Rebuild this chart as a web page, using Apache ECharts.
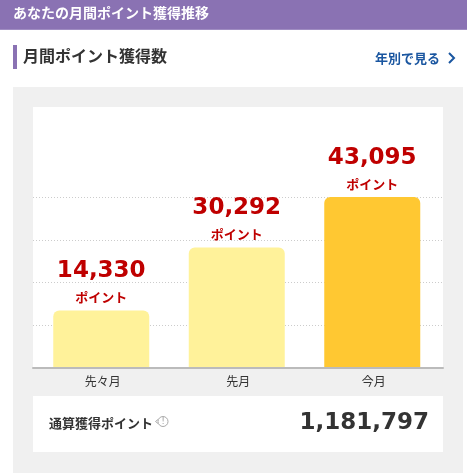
<!DOCTYPE html>
<html><head><meta charset="utf-8">
<style>html,body{margin:0;padding:0;background:#fff}#c{width:467px;height:473px}</style>
<script src="https://cdn.jsdelivr.net/npm/echarts@6/dist/echarts.min.js"></script>
</head><body><div id="c"></div>
<script>
const categories = ['先々月', '先月', '今月'];
const monthlyPoints = [14330, 30292, 43095];
const barColors = ['#FFF29A', '#FFF29A', '#FFC832'];
const totalPoints = 1181797;
const yMax = 43095;
const unitLabel = 'ポイント';
const headerTitle = 'あなたの月間ポイント獲得推移';
const sectionTitle = '月間ポイント獲得数';
const linkText = '年別で見る';
const totalLabel = '通算獲得ポイント';

const JP = '"Noto Sans CJK JP","Noto Sans",sans-serif';
const LAT = '"DejaVu Sans",sans-serif';
const chart = echarts.init(document.getElementById('c'), null, {renderer: 'canvas'});
const rect = (x, y, width, height, fill, z) => ({type: 'rect', z: z === undefined ? -10 : z, silent: true, shape: {x, y, width, height}, style: {fill}});
const text = (x, y, t, font, fill, align) => ({type: 'text', z: 5, silent: true, x, y, style: {text: t, font, fill, align: align || 'left', verticalAlign: 'middle'}});

chart.setOption({
  animation: false,
  backgroundColor: '#fff',
  grid: [
    {left: 33, width: 410, top: 197, height: 171, containLabel: false},
    {left: 33.5, width: 406.5, top: 197, height: 170, containLabel: false}
  ],
  xAxis: [
    {gridIndex: 0, type: 'category', data: categories, axisTick: {show: false}, axisLabel: {show: false},
     axisLine: {lineStyle: {color: '#bbb', width: 2}}},
    {gridIndex: 1, type: 'category', data: categories, axisTick: {show: false}, axisLine: {show: false},
     axisLabel: {color: '#333', fontSize: 12, fontFamily: JP, margin: 8, padding: [0, 0, 0, 3]}}
  ],
  yAxis: [
    {gridIndex: 0, type: 'value', min: 0, max: yMax, interval: yMax / 4, axisLabel: {show: false}, axisLine: {show: false}, axisTick: {show: false},
     splitLine: {lineStyle: {color: '#ccc', type: [1, 2], width: 1}}},
    {gridIndex: 1, type: 'value', min: 0, max: yMax, show: false, splitLine: {show: false}}
  ],
  series: [{
    type: 'bar', xAxisIndex: 1, yAxisIndex: 1, barWidth: 96, z: 3,
    data: monthlyPoints.map((v, i) => ({value: v, itemStyle: {color: barColors[i], borderRadius: [6, 6, 0, 0]}})),
    label: {
      show: true, position: 'top', distance: 5,
      formatter: p => '{v|' + p.value.toLocaleString('en-US') + '}\n{u|' + unitLabel + '}',
      rich: {
        v: {fontFamily: LAT, fontWeight: 'bold', fontSize: 23, color: '#BF0000', lineHeight: 36, align: 'center'},
        u: {fontFamily: JP, fontWeight: 'bold', fontSize: 13, color: '#BF0000', lineHeight: 16, align: 'center'}
      }
    }
  }],
  graphic: {elements: [
    rect(0, 0, 467, 29, '#8A72B3'),
    rect(0, 29, 467, 1, '#A08DC2'),
    rect(13, 87, 450, 386, '#F0F0F0'),
    rect(33, 107, 410, 261, '#fff', -9),
    rect(33, 396, 410, 56, '#fff', -9),
    rect(13, 45, 4, 24, '#8A72B3'),
    text(13, 13, headerTitle, 'bold 14px ' + JP, '#fff'),
    text(23, 56, sectionTitle, 'bold 16px ' + JP, '#333'),
    text(375, 58, linkText, 'bold 13px ' + JP, '#1A56A0'),
    {type: 'polyline', z: 5, silent: true, shape: {points: [[449, 53], [454, 58], [449, 63]]}, style: {stroke: '#1A56A0', lineWidth: 2, fill: null}},
    text(49, 423, totalLabel, 'bold 13px ' + JP, '#333'),
    {type: 'circle', z: 5, silent: true, shape: {cx: 163, cy: 421.5, r: 5}, style: {stroke: '#aaa', lineWidth: 1, fill: '#fff'}},
    {type: 'polyline', z: 5, silent: true, shape: {points: [[158, 419.5], [155.5, 421.5], [158, 423.5]]}, style: {stroke: '#aaa', lineWidth: 1, fill: null}},
    text(163, 421.5, '!', '8px ' + LAT, '#999', 'center'),
    text(429, 423, totalPoints.toLocaleString('en-US'), 'bold 23px ' + LAT, '#333', 'right')
  ]}
});
</script></body></html>
